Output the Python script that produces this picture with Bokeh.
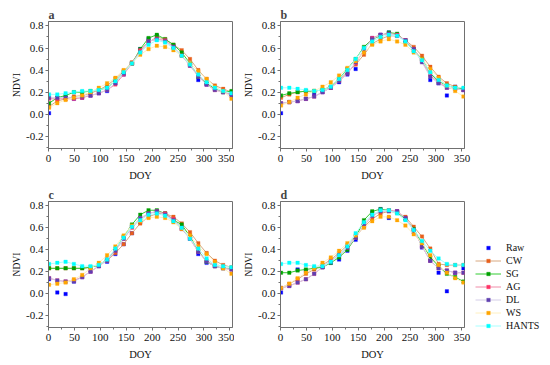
from bokeh.plotting import figure
from bokeh.layouts import column, row
from bokeh.models import (Range1d, SingleIntervalTicker, PrintfTickFormatter,
                          Legend, LegendItem)
from bokeh.embed import file_html
from bokeh.resources import INLINE

doy = [1, 17, 33, 49, 65, 81, 97, 113, 129, 145, 161, 177, 193, 209, 225,
       241, 257, 273, 289, 305, 321, 337, 353]

methods = ["Raw", "CW", "SG", "AG", "DL", "WS", "HANTS"]

# Panel a
a_raw   = [0.01, 0.15, 0.15, 0.14, 0.15, 0.17, 0.19, 0.21, 0.28, 0.36, 0.46, 0.59, 0.68, 0.71, 0.67, 0.62, 0.54, 0.45, 0.31, 0.27, 0.23, 0.20, 0.17]
a_cw    = [0.07, 0.12, 0.14, 0.16, 0.17, 0.19, 0.22, 0.26, 0.32, 0.39, 0.47, 0.57, 0.65, 0.70, 0.68, 0.63, 0.58, 0.50, 0.40, 0.32, 0.26, 0.23, 0.20]
a_sg    = [0.10, 0.15, 0.17, 0.20, 0.20, 0.21, 0.22, 0.24, 0.30, 0.38, 0.46, 0.59, 0.69, 0.72, 0.68, 0.63, 0.56, 0.46, 0.34, 0.28, 0.23, 0.20, 0.21]
a_ag    = [0.14, 0.14, 0.14, 0.14, 0.15, 0.17, 0.19, 0.22, 0.27, 0.36, 0.46, 0.58, 0.66, 0.68, 0.67, 0.61, 0.53, 0.44, 0.35, 0.27, 0.22, 0.20, 0.18]
a_dl    = [0.15, 0.15, 0.15, 0.15, 0.16, 0.17, 0.19, 0.22, 0.28, 0.37, 0.46, 0.56, 0.66, 0.68, 0.66, 0.61, 0.53, 0.44, 0.34, 0.27, 0.22, 0.20, 0.17]
a_ws    = [0.06, 0.10, 0.13, 0.15, 0.17, 0.20, 0.24, 0.28, 0.33, 0.40, 0.46, 0.54, 0.59, 0.62, 0.61, 0.58, 0.53, 0.46, 0.39, 0.32, 0.25, 0.21, 0.14]
a_hants = [0.18, 0.18, 0.19, 0.20, 0.21, 0.21, 0.22, 0.24, 0.30, 0.38, 0.46, 0.56, 0.63, 0.67, 0.65, 0.60, 0.53, 0.45, 0.36, 0.29, 0.24, 0.21, 0.19]

# Panel b
b_raw   = [0.01, 0.11, 0.12, 0.14, 0.18, 0.20, 0.24, 0.29, 0.36, 0.41, 0.58, 0.69, 0.72, 0.74, 0.72, 0.67, 0.59, 0.50, 0.31, 0.28, 0.17, 0.25, 0.22]
b_cw    = [0.15, 0.18, 0.20, 0.21, 0.21, 0.22, 0.25, 0.31, 0.38, 0.45, 0.54, 0.64, 0.68, 0.71, 0.71, 0.67, 0.61, 0.53, 0.43, 0.34, 0.28, 0.25, 0.23]
b_sg    = [0.17, 0.19, 0.20, 0.21, 0.21, 0.22, 0.25, 0.32, 0.41, 0.50, 0.61, 0.68, 0.71, 0.74, 0.73, 0.66, 0.58, 0.50, 0.37, 0.30, 0.26, 0.24, 0.23]
b_ag    = [0.10, 0.11, 0.12, 0.14, 0.16, 0.20, 0.24, 0.30, 0.37, 0.46, 0.58, 0.69, 0.72, 0.73, 0.72, 0.67, 0.59, 0.48, 0.35, 0.29, 0.24, 0.23, 0.22]
b_dl    = [0.10, 0.11, 0.12, 0.14, 0.16, 0.20, 0.24, 0.30, 0.37, 0.47, 0.58, 0.68, 0.72, 0.73, 0.71, 0.67, 0.59, 0.47, 0.34, 0.28, 0.24, 0.23, 0.22]
b_ws    = [0.08, 0.11, 0.15, 0.18, 0.21, 0.25, 0.29, 0.35, 0.42, 0.48, 0.56, 0.63, 0.66, 0.68, 0.66, 0.63, 0.56, 0.50, 0.41, 0.33, 0.26, 0.21, 0.16]
b_hants = [0.24, 0.24, 0.23, 0.22, 0.21, 0.22, 0.25, 0.32, 0.40, 0.50, 0.60, 0.66, 0.70, 0.72, 0.71, 0.66, 0.57, 0.49, 0.38, 0.31, 0.26, 0.24, 0.24]

# Panel c
c_raw   = [0.13, 0.01, -0.005, 0.11, 0.15, 0.20, 0.25, 0.29, 0.36, 0.45, 0.55, 0.65, 0.73, 0.75, 0.73, 0.68, 0.59, 0.50, 0.36, 0.28, 0.25, 0.24, 0.23]
c_cw    = [0.23, 0.23, 0.23, 0.23, 0.23, 0.24, 0.26, 0.30, 0.37, 0.45, 0.55, 0.64, 0.70, 0.73, 0.73, 0.70, 0.64, 0.56, 0.46, 0.37, 0.30, 0.26, 0.24]
c_sg    = [0.23, 0.23, 0.23, 0.23, 0.23, 0.24, 0.26, 0.31, 0.40, 0.52, 0.63, 0.72, 0.76, 0.76, 0.73, 0.67, 0.63, 0.52, 0.39, 0.29, 0.25, 0.23, 0.23]
c_ag    = [0.14, 0.12, 0.11, 0.12, 0.15, 0.20, 0.25, 0.31, 0.39, 0.50, 0.60, 0.68, 0.73, 0.75, 0.73, 0.68, 0.59, 0.50, 0.38, 0.30, 0.25, 0.23, 0.22]
c_dl    = [0.14, 0.12, 0.11, 0.11, 0.15, 0.20, 0.25, 0.30, 0.39, 0.50, 0.61, 0.69, 0.73, 0.75, 0.72, 0.67, 0.60, 0.50, 0.38, 0.29, 0.25, 0.23, 0.22]
c_ws    = [0.08, 0.09, 0.10, 0.13, 0.17, 0.23, 0.28, 0.35, 0.43, 0.53, 0.62, 0.66, 0.69, 0.70, 0.69, 0.65, 0.59, 0.53, 0.43, 0.36, 0.29, 0.23, 0.18]
c_hants = [0.27, 0.28, 0.29, 0.27, 0.25, 0.25, 0.26, 0.31, 0.41, 0.51, 0.61, 0.67, 0.72, 0.73, 0.71, 0.66, 0.60, 0.50, 0.41, 0.32, 0.26, 0.25, 0.24]

# Panel d
d_raw   = [0.01, 0.07, 0.22, 0.21, 0.23, 0.24, 0.28, 0.31, 0.39, 0.49, 0.64, 0.74, 0.77, 0.69, 0.75, 0.69, 0.56, 0.42, 0.30, 0.19, 0.02, 0.19, 0.23]
d_cw    = [0.05, 0.09, 0.13, 0.18, 0.22, 0.26, 0.31, 0.37, 0.44, 0.52, 0.61, 0.68, 0.73, 0.75, 0.74, 0.70, 0.61, 0.52, 0.41, 0.27, 0.26, 0.26, 0.26]
d_sg    = [0.19, 0.19, 0.21, 0.22, 0.23, 0.24, 0.28, 0.33, 0.40, 0.51, 0.67, 0.75, 0.77, 0.76, 0.74, 0.68, 0.59, 0.46, 0.33, 0.25, 0.18, 0.15, 0.11]
d_ag    = [0.05, 0.07, 0.10, 0.13, 0.18, 0.24, 0.30, 0.35, 0.42, 0.51, 0.62, 0.71, 0.75, 0.76, 0.75, 0.69, 0.58, 0.43, 0.30, 0.23, 0.21, 0.19, 0.19]
d_dl    = [0.05, 0.07, 0.10, 0.13, 0.18, 0.24, 0.29, 0.35, 0.42, 0.51, 0.62, 0.71, 0.75, 0.75, 0.75, 0.69, 0.58, 0.43, 0.30, 0.23, 0.21, 0.19, 0.19]
d_ws    = [0.05, 0.09, 0.14, 0.19, 0.23, 0.28, 0.33, 0.39, 0.46, 0.53, 0.60, 0.66, 0.70, 0.70, 0.67, 0.62, 0.54, 0.46, 0.35, 0.26, 0.19, 0.14, 0.10]
d_hants = [0.27, 0.28, 0.28, 0.26, 0.25, 0.25, 0.29, 0.35, 0.43, 0.55, 0.65, 0.72, 0.76, 0.76, 0.73, 0.67, 0.58, 0.48, 0.39, 0.32, 0.27, 0.26, 0.26]

panels = {
    "a": [a_raw, a_cw, a_sg, a_ag, a_dl, a_ws, a_hants],
    "b": [b_raw, b_cw, b_sg, b_ag, b_dl, b_ws, b_hants],
    "c": [c_raw, c_cw, c_sg, c_ag, c_dl, c_ws, c_hants],
    "d": [d_raw, d_cw, d_sg, d_ag, d_dl, d_ws, d_hants],
}

marker_colors = ["#0000FF", "#E8601C", "#00A000", "#FF3366", "#6040B0", "#FFA500", "#00FFFF"]
line_colors = [None, "#D8A880", "#33CC33", "#F08CA8", "#D4CDE8", "#FFF0C0", "#A8FFFF"]

FONT = "Liberation Serif"

def make_panel(letter, bl, br, bt, bb, fh):
    p = figure(frame_width=184, frame_height=fh, output_backend="svg", toolbar_location=None,
               x_range=Range1d(0, 355), y_range=Range1d(-0.31, 0.84),
               min_border_left=bl, min_border_right=br, min_border_top=bt, min_border_bottom=bb)
    p.grid.visible = False
    p.outline_line_color = "#707070"
    p.outline_line_width = 1
    p.title.text = letter
    p.title.align = "left"
    p.title.text_font = FONT
    p.title.text_font_style = "bold"
    p.title.text_font_size = "12px"
    p.title.text_line_height = 1.0
    p.title.standoff = 0
    p.title.offset = 0
    p.xaxis.ticker = SingleIntervalTicker(interval=50, num_minor_ticks=2)
    p.yaxis.ticker = SingleIntervalTicker(interval=0.2, num_minor_ticks=2)
    p.yaxis.formatter = PrintfTickFormatter(format="%.1f")
    p.xaxis.axis_label = "DOY"
    p.yaxis.axis_label = "NDVI"
    for ax in (p.xaxis[0], p.yaxis[0]):
        ax.axis_line_color = "#707070"
        ax.major_tick_line_color = "#707070"
        ax.minor_tick_line_color = "#707070"
        ax.major_tick_in = 0
        ax.major_tick_out = 3
        ax.minor_tick_in = 0
        ax.minor_tick_out = 2
        ax.major_label_text_font = FONT
        ax.major_label_text_font_size = "11px"
        ax.major_label_text_color = "#111111"
        ax.axis_label_text_font = FONT
        ax.axis_label_text_font_style = "normal"
        ax.axis_label_text_color = "#111111"
    p.xaxis.major_label_standoff = 3
    p.xaxis.axis_label_text_font_size = "10.5px"
    p.xaxis.axis_label_standoff = 5
    p.yaxis.major_label_standoff = 2
    p.yaxis.axis_label_text_font_size = "9.5px"
    p.yaxis.axis_label_standoff = 1

    renderers = []
    series = panels[letter]
    for i, name in enumerate(methods):
        vals = series[i]
        rs = []
        if line_colors[i] is not None:
            rs.append(p.line(doy, vals, line_color=line_colors[i], line_width=1))
        rs.append(p.scatter(doy, vals, marker="square", size=3.5, line_width=0.3,
                            fill_color=marker_colors[i], line_color=marker_colors[i]))
        renderers.append(rs)
    return p, renderers

# page coordinates: frames at a(48..232, 19..146), b(280..464), c/d (198..324)
pa, _ = make_panel("a", 48, 2, 21, 37, 127)
pb, _ = make_panel("b", 46, 86, 21, 37, 127)
pc, _ = make_panel("c", 48, 2, 13, 38, 126)
pd, rd = make_panel("d", 46, 86, 13, 38, 126)

items = [LegendItem(label=name, renderers=rd[i]) for i, name in enumerate(methods)]
legend = Legend(items=items, location=(11, -4), label_text_font=FONT,
                label_text_font_size="10px", label_text_color="#111111",
                glyph_width=26, glyph_height=9, label_height=9, spacing=2,
                label_standoff=5, padding=0, margin=0,
                border_line_color=None, background_fill_alpha=0)
pd.add_layout(legend, "right")

layout = column(row(pa, pb), row(pc, pd))

with open("out.html", "w") as f:
    f.write(file_html(layout, INLINE))
